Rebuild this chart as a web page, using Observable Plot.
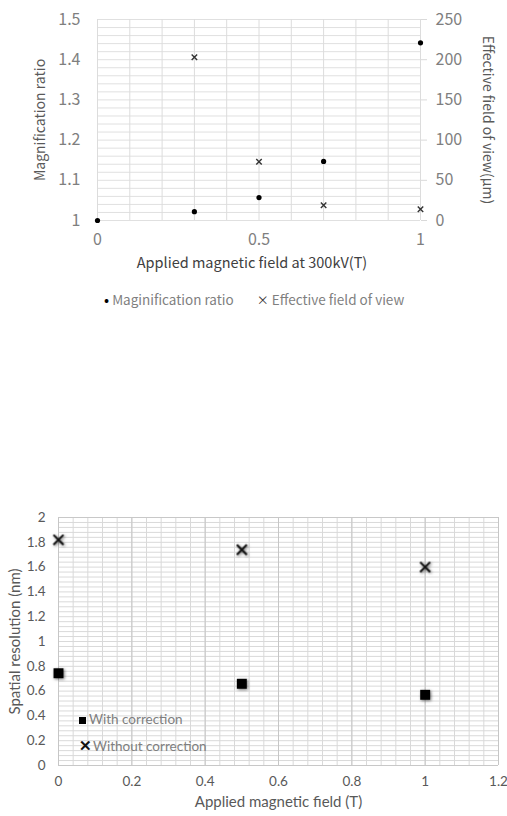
<!DOCTYPE html>
<html><head><meta charset="utf-8">
<script src="https://cdn.jsdelivr.net/npm/d3@7"></script>
<script src="https://cdn.jsdelivr.net/npm/@observablehq/plot@0.6"></script>
<style>
body{margin:0;background:#fff;width:507px;height:816px;position:relative;overflow:hidden}
#top{position:absolute;left:0;top:0}
#bottom{position:absolute;left:0;top:500px}
.legend{position:absolute;white-space:nowrap;line-height:20px}
#bottom svg g[aria-label="dot"]{filter:drop-shadow(1px 1px 1.5px rgba(0,0,0,0.55))}
</style></head><body>
<div id="top"></div>
<div id="legendTop" class="legend" style="top:289px;left:104px;font-family:'Noto Sans CJK JP','Noto Sans',sans-serif;font-size:13.5px;color:#7f7f7f"></div>
<div id="bottom"></div>
<div id="legendBottom" class="legend" style="top:709px;left:79px;font-family:Lato,sans-serif;font-size:13.5px;color:#7f7f7f"></div>
<script>
// ---- Top chart data ----
const topMagX = [0, 0.3, 0.5, 0.7, 1.0];
const topMagY = [1.0, 1.022, 1.057, 1.147, 1.442];
const topFovX = [0.3, 0.5, 0.7, 1.0];
const topFovY = [203, 73, 19, 14];
const topXTicks = [0, 0.5, 1];
const topYTicks = [1, 1.1, 1.2, 1.3, 1.4, 1.5];
const topY2Ticks = [0, 50, 100, 150, 200, 250];
const topSeries = ["Maginification ratio", "Effective field of view"];
const topXTitle = "Applied magnetic field at 300kV(T)";
const topYTitle = "Magnification ratio";
const topY2Title = "Effective field of view(μm)";

// ---- Bottom chart data ----
const botX = [0, 0.5, 1.0];
const botWith = [0.744, 0.659, 0.570];
const botWithout = [1.82, 1.74, 1.60];
const botXTicks = [0, 0.2, 0.4, 0.6, 0.8, 1, 1.2];
const botYTicks = [0, 0.2, 0.4, 0.6, 0.8, 1, 1.2, 1.4, 1.6, 1.8, 2];
const botSeries = ["With correction", "Without correction"];
const botXTitle = "Applied magnetic field (T)";
const botYTitle = "Spatial resolution (nm)";

const r2 = v => +v.toFixed(2);
// right axis maps 0..250 onto 1..1.5
const y2 = v => 1 + v / 500;

const topPlot = Plot.plot({
  width: 507, height: 280,
  marginLeft: 97, marginRight: 87, marginTop: 19, marginBottom: 60,
  style: {fontFamily: "'Noto Sans CJK JP','Noto Sans',sans-serif", color: "#7f7f7f", background: "transparent"},
  x: {domain: [0, 1]},
  y: {domain: [1, 1.5]},
  marks: [
    Plot.gridY(d3.range(1, 1.5001, 0.02).map(r2), {stroke: "#e0e0e0", strokeOpacity: 1}),
    Plot.gridX(d3.range(0, 1.0001, 0.1).map(r2), {stroke: "#dcdcdc", strokeOpacity: 1}),
    Plot.axisY(topYTicks, {tickSize: 0, tickPadding: 17, fontSize: 16, label: null, tickFormat: d => String(d)}),
    Plot.axisY(topY2Ticks.map(y2), {anchor: "right", tickSize: 6, stroke: "#d9d9d9", tickPadding: 9, fontSize: 16, label: null,
      tickFormat: d => String(Math.round((d - 1) * 500))}),
    Plot.axisX(topXTicks, {tickSize: 0, tickPadding: 13, fontSize: 16, label: null, tickFormat: d => String(d)}),
    Plot.text([topYTitle], {frameAnchor: "left", textAnchor: "middle", dx: -57, rotate: -90, fontSize: 14, fill: "#595959"}),
    Plot.text([topY2Title], {frameAnchor: "right", textAnchor: "middle", dx: 67, rotate: 90, fontSize: 14, fill: "#595959"}),
    Plot.text([topXTitle], {frameAnchor: "bottom", dx: -7, dy: 47, fontSize: 14.5, fill: "#404040"}),
    Plot.dot(topMagX, {x: d => d, y: (d, i) => topMagY[i], r: 2.6, fill: "#000", stroke: "none"}),
    Plot.dot(topFovX, {x: d => d, y: (d, i) => y2(topFovY[i]), symbol: "times", r: 2.6, stroke: "#333", strokeWidth: 1.4})
  ]
});
document.getElementById("top").append(topPlot);

const lt = document.getElementById("legendTop");
lt.innerHTML = `<span style="color:#000;font-size:15px">•</span> ${topSeries[0]}<span style="display:inline-block;width:23px"></span><span style="color:#333;font-size:12px">×</span> ${topSeries[1]}`;

const botPlot = Plot.plot({
  width: 507, height: 316,
  marginLeft: 58, marginRight: 9, marginTop: 17, marginBottom: 51,
  style: {fontFamily: "Lato, sans-serif", color: "#595959", background: "transparent"},
  x: {domain: [0, 1.2]},
  y: {domain: [0, 2]},
  marks: [
    Plot.gridY(d3.range(0, 2.0001, 0.04).map(r2), {stroke: "#d9d9d9", strokeOpacity: 1}),
    Plot.gridX(d3.range(0, 1.2001, 0.04).map(r2), {stroke: "#d9d9d9", strokeOpacity: 1}),
    Plot.gridX(botXTicks, {stroke: "#c6c6c6", strokeOpacity: 1}),
    Plot.gridY([0, 2], {stroke: "#c8c8c8", strokeOpacity: 1}),
    Plot.axisY(botYTicks, {tickSize: 0, tickPadding: 13, fontSize: 13.5, label: null, tickFormat: d => String(d)}),
    Plot.axisX(botXTicks, {tickSize: 0, tickPadding: 11, fontSize: 13.5, label: null, tickFormat: d => String(d)}),
    Plot.text([botYTitle], {frameAnchor: "left", textAnchor: "middle", dx: -43, rotate: -90, fontSize: 15, fill: "#595959"}),
    Plot.text([botXTitle], {frameAnchor: "bottom", dy: 41, fontSize: 15, fill: "#595959"}),
    Plot.dot(botX, {x: d => d, y: (d, i) => botWith[i], symbol: "square", r: 5.6, fill: "#000", stroke: "none"}),
    Plot.dot(botX, {x: d => d, y: (d, i) => botWithout[i], symbol: "times", r: 4.6, stroke: "#111", strokeWidth: 2})
  ]
});
document.getElementById("bottom").append(botPlot);

const lb = document.getElementById("legendBottom");
lb.innerHTML = `<div><span style="display:inline-block;width:7px;height:7px;background:#000;margin-right:3px;vertical-align:0px"></span>${botSeries[0]}</div>` +
  `<div style="margin-top:6px"><span style="color:#111;font-size:15px;font-weight:bold;margin-right:1px">✕</span>${botSeries[1]}</div>`;
</script>
</body></html>
